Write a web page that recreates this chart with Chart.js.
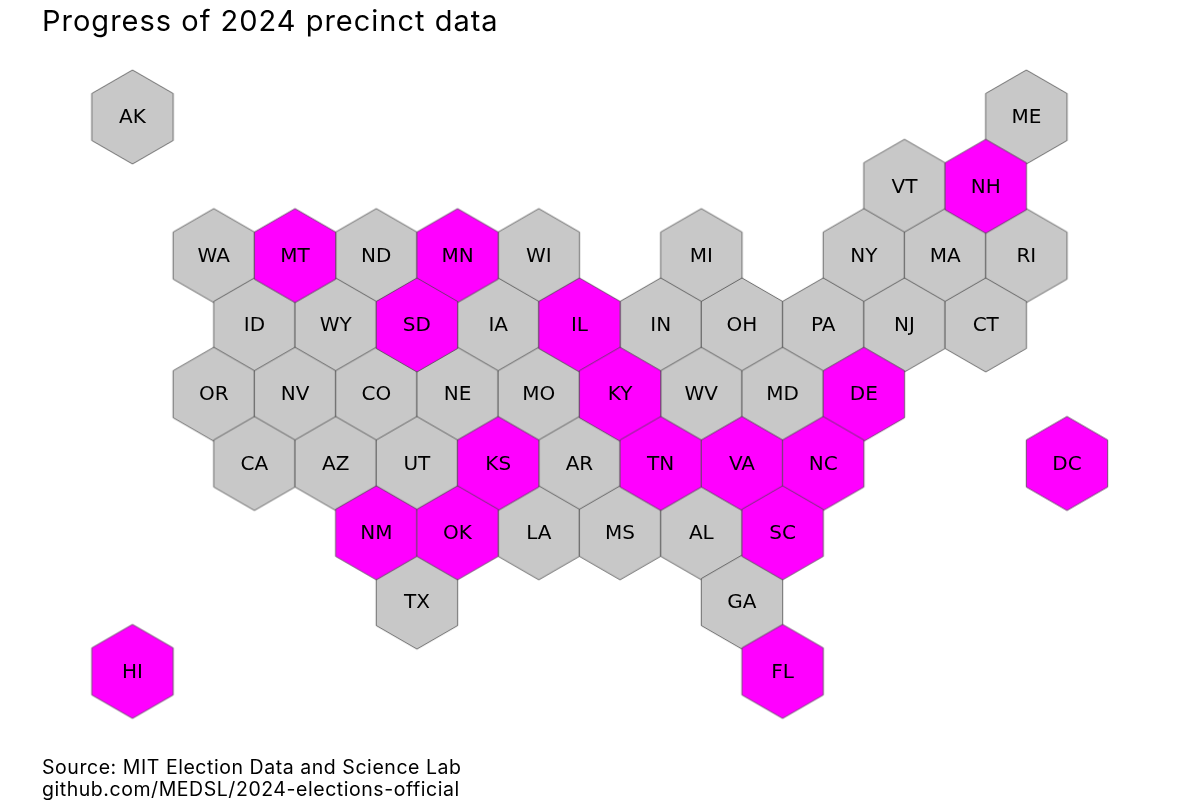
<!DOCTYPE html>
<html>
<head>
<meta charset="utf-8">
<title>Progress of 2024 precinct data</title>
<script src="https://cdn.jsdelivr.net/npm/chart.js@4"></script>
<style>
  html, body { margin: 0; padding: 0; background: #fff; }
  #wrap { position: relative; width: 1200px; height: 800px; overflow: hidden; }
  #title { position: absolute; left: 42px; top: 3px; margin: 0; font: 400 29px/36px Inter, sans-serif; letter-spacing: 1px; color: #000; white-space: nowrap; }
  #source { position: absolute; left: 42px; top: 757px; margin: 0; font: 400 19.5px/21.5px Inter, sans-serif; letter-spacing: 0.55px; color: #000; white-space: nowrap; }
</style>
</head>
<body>
<div id="wrap">
  <canvas id="map" width="1200" height="800"></canvas>
  <h1 id="title">Progress of 2024 precinct data</h1>
  <p id="source">Source: MIT Election Data and Science Lab<br>github.com/MEDSL/2024-elections-official</p>
</div>
<script>
// hex grid: columns are half hexagon widths, rows are hexagon rows
const states = [
  "AK", "ME",
  "VT", "NH",
  "WA", "MT", "ND", "MN", "WI", "MI", "NY", "MA", "RI",
  "ID", "WY", "SD", "IA", "IL", "IN", "OH", "PA", "NJ", "CT",
  "OR", "NV", "CO", "NE", "MO", "KY", "WV", "MD", "DE",
  "CA", "AZ", "UT", "KS", "AR", "TN", "VA", "NC", "DC",
  "NM", "OK", "LA", "MS", "AL", "SC",
  "TX", "GA",
  "HI", "FL"
];
const stateCols = [
  0, 22,
  19, 21,
  2, 4, 6, 8, 10, 14, 18, 20, 22,
  3, 5, 7, 9, 11, 13, 15, 17, 19, 21,
  2, 4, 6, 8, 10, 12, 14, 16, 18,
  3, 5, 7, 9, 11, 13, 15, 17, 23,
  6, 8, 10, 12, 14, 16,
  7, 15,
  0, 16
];
const stateRows = [
  0, 0,
  1, 1,
  2, 2, 2, 2, 2, 2, 2, 2, 2,
  3, 3, 3, 3, 3, 3, 3, 3, 3, 3,
  4, 4, 4, 4, 4, 4, 4, 4, 4,
  5, 5, 5, 5, 5, 5, 5, 5, 5,
  6, 6, 6, 6, 6, 6,
  7, 7,
  8, 8
];
// states with 2024 precinct data finished
const finished = ["MT", "MN", "NH", "SD", "IL", "KY", "DE", "KS", "TN", "VA", "NC", "DC", "NM", "OK", "SC", "HI", "FL"];

const HEX_RADIUS = 47;
const COL_WIDTH = 40.63;
const ROW_HEIGHT = 69.3;

function hexSprite(fill) {
  const w = Math.ceil(Math.sqrt(3) * HEX_RADIUS) + 4;
  const h = HEX_RADIUS * 2 + 4;
  const c = document.createElement('canvas');
  c.width = w;
  c.height = h;
  const ctx = c.getContext('2d');
  ctx.beginPath();
  for (let i = 0; i < 6; i++) {
    const a = Math.PI / 3 * i - Math.PI / 2;
    const px = w / 2 + HEX_RADIUS * Math.cos(a);
    const py = h / 2 + HEX_RADIUS * Math.sin(a);
    if (i == 0) ctx.moveTo(px, py); else ctx.lineTo(px, py);
  }
  ctx.closePath();
  ctx.fillStyle = fill;
  ctx.fill();
  ctx.strokeStyle = 'rgba(70, 70, 70, 0.75)';
  ctx.lineWidth = 1;
  ctx.stroke();
  return c;
}

const points = states.map((s, i) => ({ x: stateCols[i], y: stateRows[i], state: s }));

// state codes on top of the hexagons
const stateLabels = {
  id: 'stateLabels',
  afterDatasetsDraw(chart) {
    const { ctx, scales } = chart;
    ctx.save();
    ctx.font = '20px "DejaVu Sans"';
    ctx.fillStyle = '#000';
    ctx.textAlign = 'center';
    ctx.textBaseline = 'middle';
    points.forEach(p => {
      ctx.fillText(p.state, scales.x.getPixelForValue(p.x), scales.y.getPixelForValue(p.y) + 1);
    });
    ctx.restore();
  }
};

new Chart(document.getElementById('map'), {
  type: 'scatter',
  data: {
    datasets: [
      {
        label: 'Finished',
        data: points.filter(p => finished.includes(p.state)),
        pointStyle: hexSprite('#ff00ff')
      },
      {
        label: 'Not finished',
        data: points.filter(p => !finished.includes(p.state)),
        pointStyle: hexSprite('#c8c8c8')
      }
    ]
  },
  options: {
    responsive: false,
    animation: false,
    devicePixelRatio: 1,
    layout: { padding: 0, autoPadding: false },
    plugins: {
      legend: { display: false },
      title: { display: false },
      tooltip: { enabled: false }
    },
    scales: {
      x: { type: 'linear', display: false, min: -132.5 / COL_WIDTH, max: (1200 - 132.5) / COL_WIDTH },
      y: { type: 'linear', display: false, reverse: true, min: -117 / ROW_HEIGHT, max: (800 - 117) / ROW_HEIGHT }
    }
  },
  plugins: [stateLabels]
});
</script>
</body>
</html>
